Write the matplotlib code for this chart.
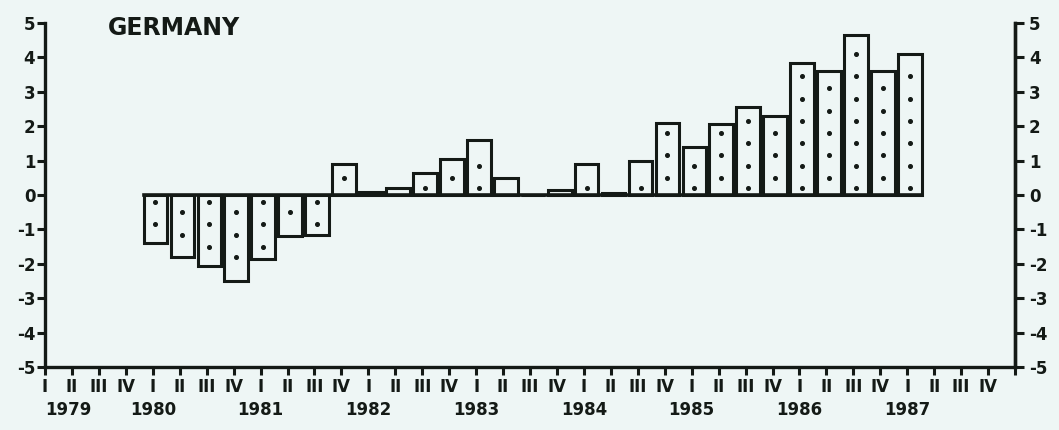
import numpy as np
import matplotlib.pyplot as plt
import matplotlib.transforms as mtransforms

# quarterly values, 1980 I .. 1987 I (1983 III missing -> 0)
years = list(range(1979, 1988))
quarter_names = ["I", "II", "III", "IV"]
first_bar_year = 1980
growth = [-1.4, -1.8, -2.05, -2.5, -1.85, -1.2, -1.15,
          0.9, 0.1, 0.2, 0.65, 1.05, 1.6, 0.5, 0.0, 0.15,
          0.9, 0.05, 1.0, 2.1, 1.4, 2.05, 2.55, 2.3,
          3.85, 3.6, 4.65, 3.6, 4.1]
title = "GERMANY"

paper = "#eef6f5"
ink = "#141a16"

plt.rcParams['font.family'] = ['DejaVu Sans']
plt.rcParams['font.weight'] = 'bold'
plt.rcParams['axes.unicode_minus'] = False

fig = plt.figure(figsize=(10.59, 4.30), dpi=100, facecolor=paper)
ax = fig.add_axes([0.0425, 0.1465, 0.916, 0.80])
ax.set_facecolor(paper)

pos = (first_bar_year - years[0]) * 4 + np.arange(len(growth)) + 0.1
bw = 0.88
ax.bar(pos, growth, width=bw, facecolor=paper, edgecolor=ink, linewidth=2.2, zorder=3)

# zero line under the bars only
ax.plot([pos[0] - bw / 2, pos[-1] + bw / 2], [0, 0], color=ink, lw=2.6, zorder=4)

# stipple dots inside each bar
for i, (p, v) in enumerate(zip(pos, growth)):
    start = 0.2 if i % 2 == 0 else 0.5
    ys = np.arange(start, abs(v) - 0.15, 0.65)
    if len(ys):
        ax.plot(np.full(len(ys), p), np.sign(v) * ys, 'o', ms=2.6, color=ink, zorder=5)

# axes
ax.set_xlim(0, len(years) * 4)
ax.set_ylim(-5, 5)
ax.spines['top'].set_visible(False)
for s in ['left', 'right', 'bottom']:
    ax.spines[s].set_linewidth(2.4)
    ax.spines[s].set_color(ink)

ax.set_yticks(range(-5, 6))
ax.tick_params(axis='y', direction='out', length=5.5, width=2.2, colors=ink,
               labelsize=12, pad=1.5)

# right-hand scale
ax2 = ax.twinx()
ax2.set_ylim(-5, 5)
ax2.set_yticks(range(-5, 6))
ax2.tick_params(axis='y', direction='out', length=6.5, width=2.2, colors=ink,
                labelsize=12, pad=3.5)
for s in ['top', 'left', 'bottom']:
    ax2.spines[s].set_visible(False)
ax2.spines['right'].set_linewidth(2.4)
ax2.spines['right'].set_color(ink)

ax.set_xticks(np.arange(0, len(years) * 4 + 1))
ax.set_xticklabels(quarter_names * len(years) + [""])
ax.tick_params(axis='x', direction='out', length=6, width=2.2, colors=ink,
               labelsize=12, pad=2)

trans = mtransforms.blended_transform_factory(ax.transData, ax.transAxes)
for k, y in enumerate(years):
    ax.text(k * 4, -0.10, str(y), transform=trans, ha='left' if k == 0 else 'center',
            va='top', fontsize=12, color=ink)

fig.text(0.102, 0.962, title, ha='left', va='top', fontsize=17, color=ink)

fig.savefig("out.png", dpi=100, facecolor=paper)
